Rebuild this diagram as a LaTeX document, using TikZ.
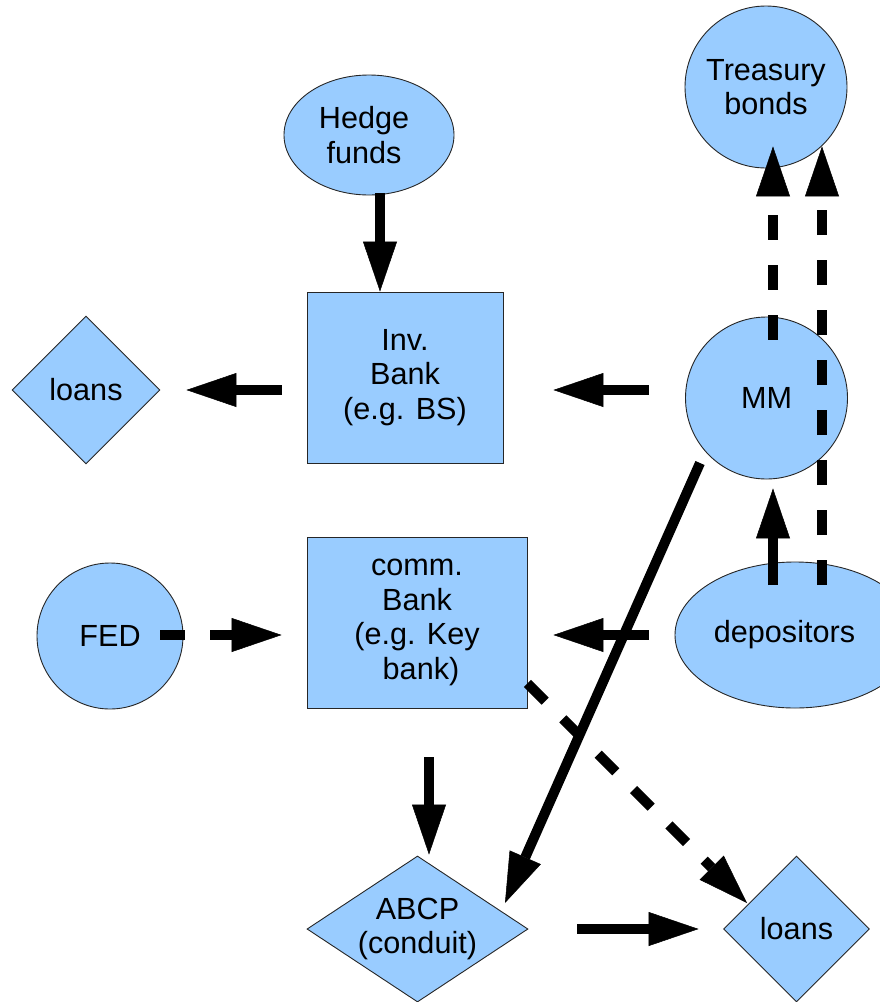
\documentclass[tikz,border=0pt]{standalone}
\usepackage{fontspec}
\setmainfont{Liberation Sans}
\usetikzlibrary{shapes.geometric,arrows.meta,calc}
\definecolor{boxblue}{HTML}{99CCFF}
\begin{document}
\begin{tikzpicture}[x=1pt,y=-1pt,
  shp/.style={fill=boxblue,draw=black!85,line width=0.9pt,inner sep=0pt,align=center,
    font=\fontsize{30.6}{34.5}\selectfont},
  circ/.style={shp,circle},
  ell/.style={shp,ellipse},
  box/.style={shp,rectangle},
  dia/.style={shp,diamond},
  arr/.style={line width=10pt,-{Triangle[length=50pt,width=34pt,line width=0.5pt]}},
  darr/.style={arr,dash pattern=on 25pt off 25pt}]
\useasboundingbox (0,0) rectangle (880,1002);
\clip (0,0) rectangle (880,1002);
\node[ell,minimum width=170pt,minimum height=120pt] (hedge) at (369,135) {Hedge\hspace*{10pt}\\funds\hspace*{10pt}};
\node[circ,minimum size=162pt] (treas) at (766,87) {Treasury\\bonds};
\node[box,minimum width=196pt,minimum height=171pt] (inv) at (405,377.5) {Inv.\\Bank\\(e.g. BS)};
\node[dia,minimum width=148pt,minimum height=148pt] (loansL) at (86,390) {loans};
\node[circ,minimum size=162pt] (mm) at (766.5,398) {MM};
\node[box,minimum width=220pt,minimum height=171pt] (comm) at (417,622.5) {comm.\\Bank\\(e.g. Key\\\hspace*{8pt}bank)};
\node[circ,minimum size=146pt] (fed) at (110,636) {FED};
\node[ell,minimum width=240pt,minimum height=146pt] (dep) at (795,635) {depositors\hspace*{21pt}};
\node[dia,aspect=1.5,minimum width=221pt,minimum height=146pt] (abcp) at (417.5,929) {ABCP\\(conduit)};
\node[dia,minimum width=146pt,minimum height=146pt] (loansR) at (796.5,929) {loans};

\draw[arr] ($(hedge.south)+(11,-2)$) -- ($(inv.north)+(-25,0)$);
\draw[arr] ($(inv.west)+(-25,12.5)$) -- ($(loansL.east)+(26,0)$);
\draw[arr] ($(mm.west)+(-36.5,-8)$) -- ($(inv.east)+(50,12.5)$);
\draw[darr] ($(fed.center)+(50,-1)$) -- ($(comm.west)+(-25,12.5)$);
\draw[arr] ($(dep.west)+(-26,0)$) -- ($(comm.east)+(26,12.5)$);
\draw[arr] ($(dep.center)+(-22,-50)$) -- ($(mm.south)+(6.5,9)$);
\draw[darr] ($(mm.north)+(6.5,23)$) -- ($(treas.south)+(7,-22)$);
\draw[darr] ($(dep.center)+(27,-50)$) -- ($(treas.south)+(56,-22)$);
\draw[arr] ($(mm.center)+(-66.5,65)$) -- ($(abcp.center)+(87.5,-26)$);
\draw[darr] ($(comm.south east)+(0,-25)$) -- ($(loansR.center)+(-49.5,-26)$);
\draw[arr] ($(comm.south)+(12,49)$) -- ($(abcp.north)+(11.5,-1)$);
\draw[arr] ($(abcp.east)+(49,0)$) -- ($(loansR.west)+(-24.5,0)$);
\end{tikzpicture}
\end{document}
